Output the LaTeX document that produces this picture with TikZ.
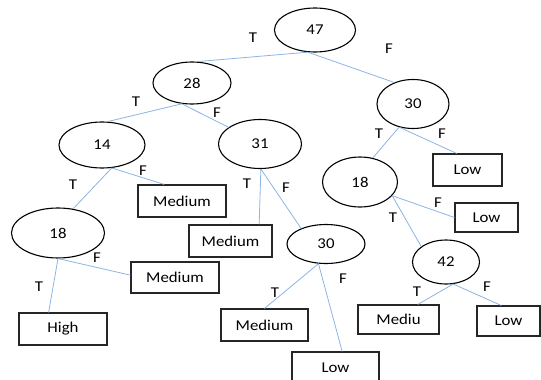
\documentclass[tikz,border=0pt]{standalone}
\usepackage{fontspec}
\setmainfont{Carlito}[FakeStretch=1.12]
\usepackage{tikz}
\usetikzlibrary{shapes.geometric}
\definecolor{edgeblue}{RGB}{141,180,226}

\begin{document}
\begin{tikzpicture}[x=1pt,y=-1pt,font=\fontsize{15}{18}\selectfont,
  cond/.style={draw,line width=1.1pt,ellipse,inner sep=0pt},
  leaf/.style={draw=black!85,line width=1.1pt,rectangle,inner sep=0pt,minimum height=32pt},
  branch/.style={edgeblue,line width=0.8pt},
  tf/.style={inner sep=0pt}]
\useasboundingbox (0,0) rectangle (541,380);
\node[cond,minimum width=81pt,minimum height=44pt] (n47) at (315,30) {47};
\node[cond,minimum width=78pt,minimum height=42pt] (n28) at (192,83) {28};
\node[cond,minimum width=72pt,minimum height=49pt] (n30a) at (413,104) {30};
\node[cond,minimum width=86pt,minimum height=46pt] (n14) at (102,145) {14};
\node[cond,minimum width=83pt,minimum height=49pt] (n31) at (260,144) {31};
\node[cond,minimum width=75pt,minimum height=50pt] (n18a) at (360,182) {18};
\node[cond,minimum width=93pt,minimum height=50pt] (n18b) at (58,233) {18};
\node[cond,minimum width=78pt,minimum height=39pt] (n30b) at (326,244) {30};
\node[cond,minimum width=67pt,minimum height=44pt] (n42) at (446,262) {42};
\node[leaf,minimum width=69pt] (lowA) at (467.5,170) {Low};
\node[leaf,minimum width=88pt] (medA) at (182,201) {Medium};
\node[leaf,minimum width=83pt] (medB) at (230.5,241) {Medium};
\node[leaf,minimum width=88pt,minimum height=31pt] (medC) at (175,277.5) {Medium};
\node[leaf,minimum width=88pt] (high) at (63,329) {High};
\node[leaf,minimum width=87pt] (medD) at (264.5,325) {Medium};
\node[leaf,minimum width=87pt] (lowB) at (335.5,368) {Low};
\node[leaf,minimum width=63pt,minimum height=29pt] (lowC) at (486.5,217.5) {Low};
\node[leaf,minimum width=81pt,minimum height=29pt] (mediu) at (398.5,319.5) {Mediu};
\node[leaf,minimum width=63pt,minimum height=30pt] (lowD) at (508.5,321) {Low};
\draw[branch] (n47.252) -- (n28.77);
\draw[branch] (n47.252) -- (n30a.131);
\draw[branch] (n28.244) -- (n14.77);
\draw[branch] (n28.244) -- (n31.152);
\draw[branch] (n14.293) -- (n18b.58);
\draw[branch] (n14.293) -- (medA.137);
\draw[branch] (n31.272) -- (medB.30);
\draw[branch] (n31.272) -- (n30b.148);
\draw[branch] (n18b.270) -- (high.131);
\draw[branch] (n18b.270) -- (medC.177);
\draw[branch] (n30a.239) -- (n18a.62);
\draw[branch] (n30a.239) -- (lowA.123);
\draw[branch] (n18a.337) -- (lowC.180);
\draw[branch] (n18a.337) -- (n42.148);
\draw[branch] (n30b.249) -- (medD.90);
\draw[branch] (n30b.249) -- (lowB.68);
\draw[branch] (n42.288) -- (mediu.38);
\draw[branch] (n42.288) -- (lowD.115);
\node[tf] (t47) at (253,38) {T};
\node[tf] (f47) at (389,49) {F};
\node[tf] (t28) at (136,102) {T};
\node[tf] (f28) at (217,113) {F};
\node[tf] (t30a) at (379,134) {T};
\node[tf] (f30a) at (442,134) {F};
\node[tf] (t14) at (73,185) {T};
\node[tf] (f14) at (143,171) {F};
\node[tf] (t31) at (247,184) {T};
\node[tf] (f31) at (286,188) {F};
\node[tf] (t18b) at (39,287) {T};
\node[tf] (f18b) at (97,258) {F};
\node[tf] (t18a) at (393,218) {T};
\node[tf] (f18a) at (438,203) {F};
\node[tf] (t30b) at (275,293) {T};
\node[tf] (f30b) at (343,279) {F};
\node[tf] (t42) at (417,292) {T};
\node[tf] (f42) at (487,287) {F};
\end{tikzpicture}
\end{document}
